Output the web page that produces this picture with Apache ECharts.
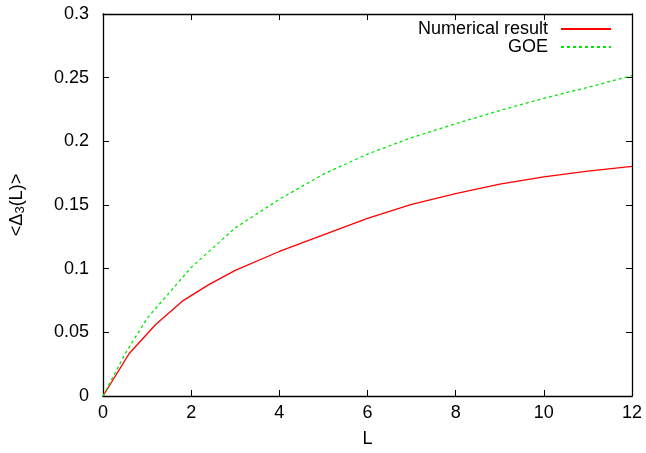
<!DOCTYPE html>
<html>
<head>
<meta charset="utf-8">
<script src="https://cdn.jsdelivr.net/npm/echarts@6/dist/echarts.min.js"></script>
<style>
  html, body { margin: 0; padding: 0; background: #fff; }
  #chart { width: 646px; height: 453px; }
</style>
</head>
<body>
<div id="chart"></div>
<script>
// Spectral rigidity <Δ3(L)> versus interval length L
const numericalL = [0, 0.6, 1.2, 1.8, 2.4, 3, 4, 5, 6, 7, 8, 9, 10, 11, 12];
const numericalD3 = [0, 0.0336, 0.0563, 0.0745, 0.0875, 0.0987, 0.1135, 0.1266, 0.1395, 0.1505, 0.1590, 0.1664, 0.1721, 0.1766, 0.1803];
const goeL = [0, 0.5, 1, 2, 3, 4, 5, 6, 7, 8, 9, 10, 11, 12];
const goeD3 = [0, 0.0330, 0.0610, 0.1010, 0.1320, 0.1545, 0.1742, 0.1900, 0.2029, 0.2138, 0.2242, 0.2338, 0.2424, 0.2516];
const xTicks = [0, 2, 4, 6, 8, 10, 12];
const yTicks = [0, 0.05, 0.1, 0.15, 0.2, 0.25, 0.3];

const FONT = '"Liberation Sans", Arial, Helvetica, sans-serif';
const FS = 18;
const pair = (xs, ys) => xs.map((x, i) => [x, ys[i]]);

const chart = echarts.init(document.getElementById('chart'), null, { renderer: 'canvas' });

const frameLine = { show: true, onZero: false, lineStyle: { color: '#000', width: 1.3 } };
const inTicks = { show: true, inside: true, length: 6, lineStyle: { color: '#000', width: 1 } };

chart.setOption({
  animation: false,
  backgroundColor: '#fff',
  grid: { left: 102, right: 14, top: 14, bottom: 56, containLabel: false },
  legend: {
    orient: 'vertical',
    right: 34,
    top: 20,
    padding: 0,
    align: 'right',
    itemWidth: 50,
    itemHeight: 10,
    itemGap: 0,
    itemStyle: { opacity: 0 },
    textStyle: { fontFamily: FONT, fontSize: FS, lineHeight: 17, color: '#000', padding: [0, 8, 0, 0] },
    data: ['Numerical result', 'GOE']
  },
  xAxis: [
    {
      type: 'value', min: 0, max: 12, interval: 2,
      axisLine: frameLine, axisTick: inTicks, splitLine: { show: false },
      axisLabel: { color: '#000', fontFamily: FONT, fontSize: FS, margin: 8,
        formatter: v => xTicks.includes(v) ? String(v) : '' },
      name: 'L', nameLocation: 'middle', nameGap: 34,
      nameTextStyle: { color: '#000', fontFamily: FONT, fontSize: FS }
    },
    {
      type: 'value', position: 'top', min: 0, max: 12, interval: 2,
      axisLine: frameLine, axisTick: inTicks, axisLabel: { show: false }, splitLine: { show: false }
    }
  ],
  yAxis: [
    {
      type: 'value', min: 0, max: 0.3, interval: 0.05,
      axisLine: frameLine, axisTick: inTicks, splitLine: { show: false },
      axisLabel: { color: '#000', fontFamily: FONT, fontSize: FS, margin: 14,
        formatter: v => { const t = yTicks.find(y => Math.abs(y - v) < 1e-9); return t === undefined ? '' : String(t); } },
      name: '{a|<Δ}{s|3}{a|(L)>}', nameLocation: 'middle', nameGap: 76, nameRotate: 90,
      nameTextStyle: {
        color: '#000', fontFamily: FONT, fontSize: FS,
        rich: {
          a: { fontFamily: FONT, fontSize: FS, color: '#000' },
          s: { fontFamily: FONT, fontSize: 13, color: '#000', verticalAlign: 'bottom', padding: [7, 0, 0, 0] }
        }
      }
    },
    {
      type: 'value', position: 'right', min: 0, max: 0.3, interval: 0.05,
      axisLine: frameLine, axisTick: inTicks, axisLabel: { show: false }, splitLine: { show: false }
    }
  ],
  series: [
    {
      name: 'Numerical result', type: 'line', xAxisIndex: 0, yAxisIndex: 0,
      data: pair(numericalL, numericalD3), showSymbol: false, symbol: 'none',
      lineStyle: { color: '#ff0000', width: 1.3 }, itemStyle: { color: '#ff0000' }
    },
    {
      name: 'GOE', type: 'line', xAxisIndex: 0, yAxisIndex: 0,
      data: pair(goeL, goeD3), showSymbol: false, symbol: 'none',
      lineStyle: { color: '#00e600', width: 1.3, type: [3, 3] }, itemStyle: { color: '#00e600' }
    }
  ]
});
</script>
</body>
</html>
